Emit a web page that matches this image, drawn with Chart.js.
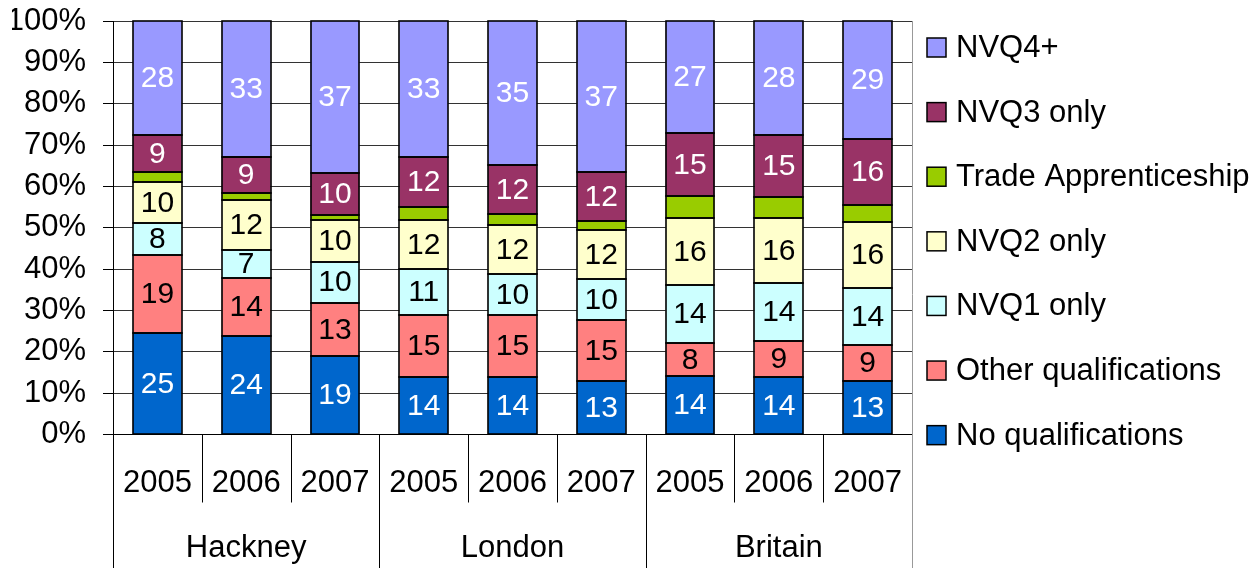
<!DOCTYPE html>
<html>
<head>
<meta charset="utf-8">
<script src="https://cdn.jsdelivr.net/npm/chart.js@4"></script>
<style>
  html, body { margin: 0; padding: 0; background: #fff; }
  #wrap { width: 1259px; height: 568px; }
</style>
</head>
<body>
<div id="wrap"><canvas id="myChart" width="1259" height="568"></canvas></div>
<script>
// categories
const groups = ['Hackney', 'London', 'Britain'];
const years = ['2005', '2006', '2007', '2005', '2006', '2007', '2005', '2006', '2007'];

// series values (as labelled on the chart; trade apprenticeship is unlabelled)
const noQual = [25, 24, 19, 14, 14, 13, 14, 14, 13];
const otherQual = [19, 14, 13, 15, 15, 15, 8, 9, 9];
const nvq1 = [8, 7, 10, 11, 10, 10, 14, 14, 14];
const nvq2 = [10, 12, 10, 12, 12, 12, 16, 16, 16];
const tradeApp = [2.6, 1.7, 1.4, 3.2, 2.5, 2.2, 5.5, 5.2, 4.4];
const nvq3 = [9, 9, 10, 12, 12, 12, 15, 15, 16];
const nvq4 = [28, 33, 37, 33, 35, 37, 27, 28, 29];

const yTicks = [0, 10, 20, 30, 40, 50, 60, 70, 80, 90, 100];

const FONT = "'Liberation Sans', Arial, sans-serif";

const series = [
    { label: 'No qualifications', data: noQual, color: '#0066CC', text: '#fff', showLabel: true },
    { label: 'Other qualifications', data: otherQual, color: '#FF8080', text: '#000', showLabel: true },
    { label: 'NVQ1 only', data: nvq1, color: '#CCFFFF', text: '#000', showLabel: true },
    { label: 'NVQ2 only', data: nvq2, color: '#FFFFCC', text: '#000', showLabel: true },
    { label: 'Trade Apprenticeship', data: tradeApp, color: '#99CC00', text: '#000', showLabel: false },
    { label: 'NVQ3 only', data: nvq3, color: '#993366', text: '#fff', showLabel: true },
    { label: 'NVQ4+', data: nvq4, color: '#9999FF', text: '#fff', showLabel: true }
];

// 100% stacked: share of each column total
const totals = years.map((y, i) => series.reduce((s, d) => s + d.data[i], 0));

const ctx = document.getElementById('myChart');

// black outlines round every segment, then value labels
const segmentLabels = {
    id: 'segmentLabels',
    afterDatasetsDraw(chart) {
        const c = chart.ctx;
        c.save();
        c.strokeStyle = '#000';
        c.lineWidth = 1.6;
        series.forEach((s, di) => {
            chart.getDatasetMeta(di).data.forEach(bar => {
                const l = Math.round(bar.x - bar.width / 2);
                const r = Math.round(bar.x + bar.width / 2);
                const t = Math.round(Math.min(bar.y, bar.base));
                const b = Math.round(Math.max(bar.y, bar.base));
                c.strokeRect(l, t, r - l, b - t);
            });
        });
        c.font = '30px ' + FONT;
        c.textAlign = 'center';
        c.textBaseline = 'middle';
        series.forEach((s, di) => {
            if (!s.showLabel) return;
            chart.getDatasetMeta(di).data.forEach((bar, i) => {
                c.fillStyle = s.text;
                c.fillText(String(s.data[i]), bar.x, (bar.y + bar.base) / 2 + 1);
            });
        });
        c.restore();
    }
};

// two-level category axis: separators and group names
const groupAxis = {
    id: 'groupAxis',
    afterDraw(chart) {
        const c = chart.ctx;
        const a = chart.chartArea;
        const x = chart.scales.x;
        const H = chart.height;
        const yearBottom = a.bottom + 68;
        c.save();
        c.lineWidth = 1;
        for (let i = 0; i <= years.length; i++) {
            let px;
            if (i === 0) px = a.left;
            else if (i === years.length) px = a.right;
            else px = (x.getPixelForValue(i - 1) + x.getPixelForValue(i)) / 2;
            px = Math.round(px) + 0.5;
            const full = i % 3 === 0;
            c.strokeStyle = i === years.length ? '#999' : '#000';
            c.beginPath();
            c.moveTo(px, i === years.length ? a.top : a.bottom);
            c.lineTo(px, full ? H : yearBottom);
            c.stroke();
        }
        c.fillStyle = '#000';
        c.font = '31px ' + FONT;
        c.textAlign = 'center';
        c.textBaseline = 'middle';
        groups.forEach((g, gi) => {
            const cx = (x.getPixelForValue(gi * 3) + x.getPixelForValue(gi * 3 + 2)) / 2;
            c.fillText(g, cx, a.bottom + 114);
        });
        c.restore();
    }
};

// legend on the right, top item = last series
const sideLegend = {
    id: 'sideLegend',
    afterDraw(chart) {
        const c = chart.ctx;
        const a = chart.chartArea;
        const step = (a.bottom - a.top) / 6.4;
        const boxX = a.right + 15;
        c.save();
        c.font = '31px ' + FONT;
        c.textBaseline = 'middle';
        c.lineWidth = 1.5;
        series.slice().reverse().forEach((s, k) => {
            const cy = a.top + 26.5 + k * step;
            c.fillStyle = s.color;
            c.fillRect(boxX, cy - 9.5, 19, 19);
            c.strokeStyle = '#000';
            c.strokeRect(boxX, cy - 9.5, 19, 19);
            c.fillStyle = '#000';
            c.fillText(s.label, boxX + 29, cy + 1);
        });
        c.restore();
    }
};

new Chart(ctx, {
    type: 'bar',
    data: {
        labels: years,
        datasets: series.map(s => ({
            label: s.label,
            data: s.data.map((v, i) => v / totals[i] * 100),
            backgroundColor: s.color,
            borderWidth: 0,
            inflateAmount: 0,
            barPercentage: 0.55,
            categoryPercentage: 1
        }))
    },
    options: {
        responsive: false,
        animation: false,
        layout: {
            padding: { left: 12, right: 347, top: 21, bottom: 0 }
        },
        plugins: {
            legend: { display: false },
            tooltip: { enabled: false }
        },
        scales: {
            x: {
                stacked: true,
                grid: { display: false, drawTicks: false },
                border: { display: true, color: '#000', width: 1 },
                ticks: {
                    color: '#000',
                    font: { family: FONT, size: 31 },
                    padding: 30,
                    maxRotation: 0,
                    autoSkip: false
                },
                afterFit(scale) { scale.height = 133.5; }
            },
            y: {
                stacked: true,
                min: 0,
                max: 100,
                afterBuildTicks(scale) { scale.ticks = yTicks.map(v => ({ value: v })); },
                grid: { color: '#333', lineWidth: 1, tickLength: 10, tickColor: '#000' },
                border: { display: true, color: '#000', width: 1 },
                ticks: {
                    color: '#000',
                    font: { family: FONT, size: 31 },
                    padding: 17,
                    autoSkip: false,
                    callback: v => v + '%'
                },
                afterFit(scale) {
                    scale.width = 101;
                    scale.paddingTop = 0;
                }
            }
        }
    },
    plugins: [segmentLabels, groupAxis, sideLegend]
});
</script>
</body>
</html>
